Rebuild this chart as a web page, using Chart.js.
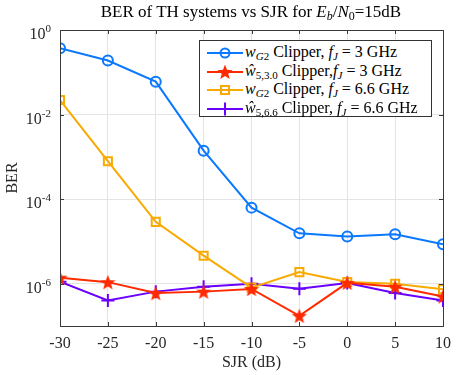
<!DOCTYPE html>
<html><head><meta charset="utf-8">
<script src="https://cdn.jsdelivr.net/npm/chart.js@4"></script>
<style>
html,body{margin:0;padding:0;background:#fff;}
#wrap{position:relative;width:463px;height:375px;overflow:hidden;}
#c{position:absolute;left:0;top:0;}
#title{position:absolute;left:0;top:2px;width:502px;text-align:center;font:17px 'Liberation Serif',serif;color:#000;white-space:nowrap;}
#title sub{font-size:12px;vertical-align:-3px;line-height:0;}
#legend{position:absolute;left:199px;top:40px;width:233px;height:77px;border:1px solid #333;background:#fff;box-sizing:border-box;}
.row{position:absolute;left:0;height:18px;white-space:nowrap;font:16px 'Liberation Serif',serif;color:#000;}
.row svg{position:absolute;left:7px;top:0;}
.row span{position:absolute;left:45px;top:-1px;line-height:18px;}
.row sub{font-size:11px;vertical-align:-3px;line-height:0;}
</style></head>
<body><div id="wrap"><canvas id="c" width="463" height="375"></canvas><div id="title">BER of TH systems vs SJR for <i>E</i><sub><i>b</i></sub>/<i>N</i><sub>0</sub>=15dB</div><div id="legend"></div></div>
<script>
// ---- data ----
const sjr = [-30, -25, -20, -15, -10, -5, 0, 5, 10];
const berWG2_3GHz   = [0.37, 0.19, 0.06, 1.4e-3, 6.3e-5, 1.56e-5, 1.3e-5, 1.48e-5, 8.6e-6];
const berW530_3GHz  = [1.39e-6, 1.09e-6, 6.0e-7, 6.5e-7, 7.5e-7, 1.74e-7, 1.05e-6, 8.5e-7, 5.0e-7];
const berWG2_66GHz  = [2.2e-2, 7.9e-4, 2.9e-5, 4.6e-6, 8.1e-7, 1.88e-6, 1.1e-6, 1.0e-6, 7.4e-7];
const berW566_66GHz = [1.12e-6, 4.0e-7, 6.5e-7, 8.5e-7, 1.0e-6, 7.6e-7, 1.04e-6, 6.0e-7, 4.0e-7];
const seriesLabels = [
  '<i>w</i><sub><i>G</i>2</sub> Clipper, <i>f</i><sub><i>J</i></sub> = 3 GHz',
  '<i>ŵ</i><sub>5,3.0</sub> Clipper,<i>f</i><sub><i>J</i></sub> = 3 GHz',
  '<i>w</i><sub><i>G</i>2</sub> Clipper, <i>f</i><sub><i>J</i></sub> = 6.6 GHz',
  '<i>ŵ</i><sub>5,6.6</sub> Clipper, <i>f</i><sub><i>J</i></sub> = 6.6 GHz'
];
const yTickExponents = [0, -2, -4, -6];
const xTicks = [-30, -25, -20, -15, -10, -5, 0, 5, 10];

const BLUE = '#0A78FF', RED = '#FF2A00', ORANGE = '#F8AA00', PURPLE = '#6A00FF';
const FONT = "'Liberation Serif', 'Times New Roman', serif";

function starCanvas(color, size) {
  const cv = document.createElement('canvas');
  cv.width = size; cv.height = size;
  const g = cv.getContext('2d');
  const cx = size / 2, cy = size / 2 + 0.8, R = size / 2, r = R * 0.42;
  g.beginPath();
  for (let i = 0; i < 10; i++) {
    const a = -Math.PI / 2 + i * Math.PI / 5;
    const rr = i % 2 ? r : R;
    g.lineTo(cx + rr * Math.cos(a), cy + rr * Math.sin(a));
  }
  g.closePath();
  g.fillStyle = color; g.fill();
  return cv;
}
const star = starCanvas(RED, 16);

const pts = arr => sjr.map((x, i) => ({x, y: arr[i]}));
const datasets = [
  {data: pts(berWG2_3GHz), borderColor: BLUE, pointStyle: 'circle', pointRadius: 5, pointBorderWidth: 2, backgroundColor: 'rgba(0,0,0,0)'},
  {data: pts(berW530_3GHz), borderColor: RED, pointStyle: star, pointRadius: 8, backgroundColor: RED},
  {data: pts(berWG2_66GHz), borderColor: ORANGE, pointStyle: 'rect', pointRadius: 5.7, pointBorderWidth: 2, backgroundColor: 'rgba(0,0,0,0)'},
  {data: pts(berW566_66GHz), borderColor: PURPLE, pointStyle: 'cross', pointRadius: 6.5, pointBorderWidth: 2, backgroundColor: PURPLE}
].map((d, i) => Object.assign({label: seriesLabels[i], borderWidth: 2, tension: 0, pointBorderColor: d.borderColor, pointBackgroundColor: d.backgroundColor}, d));

const frame = {
  id: 'frame',
  afterDraw(chart) {
    const {ctx, chartArea: a, scales: {x, y}} = chart;
    ctx.save();
    ctx.strokeStyle = '#3a3a3a'; ctx.lineWidth = 1;
    ctx.strokeRect(Math.round(a.left) + 0.5, Math.round(a.top) + 0.5, Math.round(a.right - a.left), Math.round(a.bottom - a.top));
    ctx.beginPath();
    xTicks.forEach(v => {
      const px = Math.round(x.getPixelForValue(v)) + 0.5;
      ctx.moveTo(px, a.bottom); ctx.lineTo(px, a.bottom - 4);
      ctx.moveTo(px, a.top); ctx.lineTo(px, a.top + 4);
    });
    yTickExponents.forEach(e => {
      const py = Math.round(y.getPixelForValue(Math.pow(10, e))) + 0.5;
      ctx.moveTo(a.left, py); ctx.lineTo(a.left + 4, py);
      ctx.moveTo(a.right, py); ctx.lineTo(a.right - 4, py);
    });
    ctx.stroke();
    // y tick labels 10^e
    ctx.fillStyle = '#262626';
    ctx.textBaseline = 'alphabetic';
    yTickExponents.forEach(e => {
      const py = y.getPixelForValue(Math.pow(10, e));
      const exp = String(e);
      ctx.font = '11px ' + FONT;
      const ew = ctx.measureText(exp).width;
      const right = a.left - 9;
      ctx.textAlign = 'left';
      ctx.fillText(exp, right - ew, py + 2);
      ctx.font = '16px ' + FONT;
      ctx.textAlign = 'right';
      ctx.fillText('10', right - ew, py + 9);
    });
    ctx.restore();
  }
};

new Chart(document.getElementById('c'), {
  type: 'line',
  data: {datasets},
  options: {
    responsive: false, animation: false,
    layout: {padding: {left: 0, right: 20, top: 30, bottom: 0}},
    plugins: {legend: {display: false}, title: {display: false}, tooltip: {enabled: false}},
    scales: {
      x: {
        type: 'linear', min: -30, max: 10,
        afterBuildTicks: s => { s.ticks = xTicks.map(v => ({value: v})); },
        afterFit: s => { s.height = 49; },
        grid: {color: '#e4e4e4', drawTicks: false, lineWidth: 1},
        border: {display: false},
        ticks: {padding: 8, color: '#262626', font: {family: FONT, size: 16}, maxRotation: 0, autoSkip: false},
        title: {display: true, text: 'SJR (dB)', color: '#262626', font: {family: FONT, size: 16}, padding: {top: 0, bottom: 3}}
      },
      y: {
        type: 'logarithmic', min: 1e-7, max: 1,
        afterBuildTicks: s => { s.ticks = yTickExponents.map(e => ({value: Math.pow(10, e)})); },
        afterFit: s => { s.width = 60; },
        grid: {color: '#e4e4e4', drawTicks: false, lineWidth: 1},
        border: {display: false},
        ticks: {display: false},
        title: {display: true, text: 'BER', color: '#262626', font: {family: FONT, size: 16}, padding: {top: 3, bottom: 0}}
      }
    }
  },
  plugins: [frame]
});

// HTML legend built from datasets
const leg = document.getElementById('legend');
datasets.forEach((d, i) => {
  const row = document.createElement('div');
  row.className = 'row';
  row.style.top = (3 + i * 18.5) + 'px';
  let marker = '';
  const c = d.borderColor;
  if (i === 0) marker = `<circle cx="18" cy="9" r="4.5" fill="none" stroke="${c}" stroke-width="2"/>`;
  if (i === 1) {
    let p = [];
    for (let k = 0; k < 10; k++) { const a = -Math.PI/2 + k*Math.PI/5; const rr = k%2 ? 3.4 : 8; p.push((18 + rr*Math.cos(a)).toFixed(2) + ',' + (9.6 + rr*Math.sin(a)).toFixed(2)); }
    marker = `<polygon points="${p.join(' ')}" fill="${c}"/>`;
  }
  if (i === 2) marker = `<rect x="14" y="5" width="8" height="8" fill="none" stroke="${c}" stroke-width="2"/>`;
  if (i === 3) marker = `<path d="M18 2.5V15.5M11.5 9H24.5" stroke="${c}" stroke-width="2"/>`;
  row.innerHTML = `<svg width="38" height="18"><line x1="0" y1="9" x2="36" y2="9" stroke="${c}" stroke-width="2"/>${marker}</svg><span>${d.label}</span>`;
  leg.appendChild(row);
});
</script>
</body></html>
